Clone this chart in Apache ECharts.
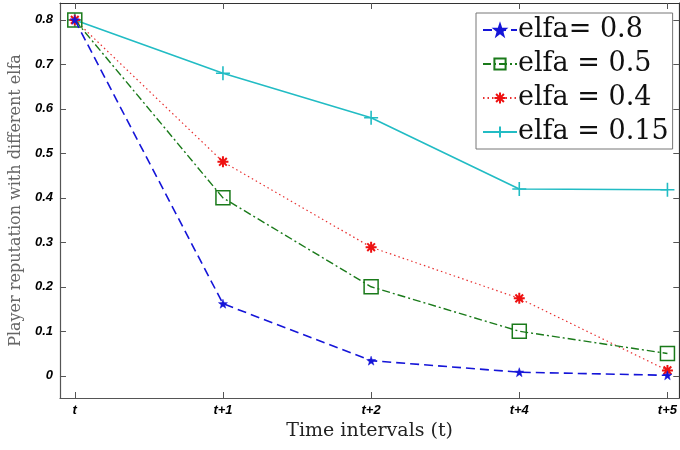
<!DOCTYPE html>
<html>
<head>
<meta charset="utf-8">
<script src="https://cdn.jsdelivr.net/npm/echarts@6/dist/echarts.min.js"></script>
<style>
html, body { margin: 0; padding: 0; background: #fff; }
#chart { width: 680px; height: 450px; }
</style>
</head>
<body>
<div id="chart"></div>
<script>
// time steps and their tick labels
var steps = [0, 1, 2, 3, 4];
var tickLabels = ['t', 't+1', 't+2', 't+4', 't+5'];
var yTicks = [0, 0.1, 0.2, 0.3, 0.4, 0.5, 0.6, 0.7, 0.8];

var names = ['elfa= 0.8', 'elfa = 0.5', 'elfa = 0.4', 'elfa = 0.15'];
var elfa08 = [0.8, 0.162, 0.034, 0.008, 0.001];
var elfa05 = [0.8, 0.4, 0.2, 0.1, 0.05];
var elfa04 = [0.8, 0.481, 0.289, 0.174, 0.012];
var elfa015 = [0.8, 0.68, 0.58, 0.42, 0.418];

function pairs(vals) {
    return steps.map(function (s, i) { return [s, vals[i]]; });
}

var starPath = 'path://M0,-10L2.35,-3.24L9.51,-3.09L3.8,1.24L5.88,8.09L0,4L-5.88,8.09L-3.8,1.24L-9.51,-3.09L-2.35,-3.24Z';
var asteriskPath = 'path://M0,-5L0,5M-5,0L5,0M-3.5,-3.5L3.5,3.5M-3.5,3.5L3.5,-3.5';
var plusPath = 'path://M0,-5L0,5M-5,0L5,0';

var serif = 'DejaVu Serif, Liberation Serif, serif';

var chart = echarts.init(document.getElementById('chart'));

var tickFont = {
    fontFamily: 'Liberation Sans, Arial, sans-serif',
    fontWeight: 'bold',
    fontStyle: 'italic',
    fontSize: 13,
    color: '#000'
};

chart.setOption({
    animation: false,
    backgroundColor: '#fff',
    grid: { left: 59, top: 3, right: -1, bottom: 52 },
    legend: {
        left: 476, top: 13,
        orient: 'vertical',
        backgroundColor: '#fff',
        borderColor: '#777',
        borderWidth: 1,
        padding: [1, 4, 1, 6],
        itemGap: 2,
        itemWidth: 34,
        itemHeight: 14,
        textStyle: {
            fontFamily: serif,
            fontSize: 27,
            lineHeight: 32,
            color: '#111',
            padding: [0, 0, 0, -4]
        },
        data: names
    },
    xAxis: [{
        type: 'value',
        min: -0.1, max: 4.08,
        interval: 1,
        name: 'Time intervals (t)',
        nameLocation: 'middle',
        nameGap: 23,
        nameTextStyle: { fontFamily: serif, fontSize: 19, color: '#222' },
        axisLine: { onZero: false, lineStyle: { color: '#555', width: 1.2 } },
        axisTick: { inside: true, length: 6, customValues: steps, lineStyle: { color: '#555' } },
        axisLabel: Object.assign({
            margin: 6,
            customValues: steps,
            formatter: function (v) { return tickLabels[Math.round(v)]; }
        }, tickFont),
        splitLine: { show: false }
    }, {
        type: 'value',
        position: 'top',
        min: -0.1, max: 4.08,
        axisLine: { show: true, onZero: false, lineStyle: { color: '#333', width: 1.2 } },
        axisTick: { inside: true, length: 6, customValues: steps, lineStyle: { color: '#555' } },
        axisLabel: { show: false },
        splitLine: { show: false }
    }],
    yAxis: [{
        type: 'value',
        min: -0.05, max: 0.838,
        name: 'Player reputation with different elfa',
        nameLocation: 'middle',
        nameGap: 33,
        nameTextStyle: { fontFamily: serif, fontSize: 16, color: '#666' },
        axisLine: { show: true, onZero: false, lineStyle: { color: '#555', width: 1.2 } },
        axisTick: { inside: true, length: 6, customValues: yTicks, lineStyle: { color: '#555' } },
        axisLabel: Object.assign({
            margin: 7,
            customValues: yTicks,
            formatter: function (v) { return v === 0 ? '0' : v.toFixed(1); }
        }, tickFont),
        splitLine: { show: false }
    }, {
        type: 'value',
        position: 'right',
        min: -0.05, max: 0.838,
        axisLine: { show: true, onZero: false, lineStyle: { color: '#333', width: 1.2 } },
        axisTick: { inside: true, length: 6, customValues: yTicks, lineStyle: { color: '#555' } },
        axisLabel: { show: false },
        splitLine: { show: false }
    }],
    series: [{
        name: names[0], type: 'line', data: pairs(elfa08),
        symbol: starPath, symbolSize: 9,
        lineStyle: { color: '#1515d8', width: 1.6, type: [9, 5] },
        itemStyle: { color: '#1515d8', borderColor: '#1515d8', borderWidth: 0.5 },
        z: 4
    }, {
        name: names[1], type: 'line', data: pairs(elfa05),
        symbol: 'rect', symbolSize: 14,
        lineStyle: { color: '#1a7a1a', width: 1.4, type: [8, 3, 2, 3] },
        itemStyle: { color: 'rgba(255,255,255,0)', borderColor: '#1a7a1a', borderWidth: 1.5 },
        z: 3
    }, {
        name: names[2], type: 'line', data: pairs(elfa04),
        symbol: asteriskPath, symbolSize: 11,
        lineStyle: { color: '#e83030', width: 1.2, type: [1.5, 3] },
        itemStyle: { color: '#ee1111', borderColor: '#ee1111', borderWidth: 2 },
        z: 2
    }, {
        name: names[3], type: 'line', data: pairs(elfa015),
        symbol: plusPath, symbolSize: 14,
        lineStyle: { color: '#22bcc4', width: 1.6 },
        itemStyle: { color: '#22bcc4', borderColor: '#22bcc4', borderWidth: 1.6 },
        z: 1
    }]
});
</script>
</body>
</html>
